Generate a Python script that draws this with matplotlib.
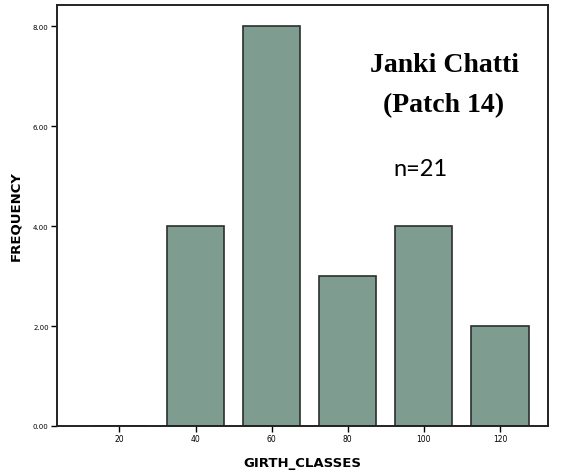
import matplotlib
matplotlib.use("Agg")
import matplotlib.pyplot as plt
import numpy as np

categories = ["20", "40", "60", "80", "100", "120"]
frequency = [0, 4, 8, 3, 4, 2]
yticks = [0, 2, 4, 6, 8]
ytick_labels = ["0.00", "2.00", "4.00", "6.00", "8.00"]

fig = plt.figure(figsize=(5.65, 4.77), dpi=100)
ax = fig.add_axes([57/565, 1-427/477, (548-57)/565, (427-6)/477])

x = np.arange(len(categories))
ax.bar(x, frequency, width=0.75, color="#7f9c90", edgecolor="#2a2f2c", linewidth=1.2, zorder=2)

ax.set_xlim(-0.82, 5.63)
ax.set_ylim(0, 8.43)
ax.set_xticks(x)
ax.set_xticklabels(categories, fontsize=5.5)
ax.set_yticks(yticks)
ax.set_yticklabels(ytick_labels, fontsize=5)
ax.tick_params(axis="both", direction="out", length=4, width=1, pad=2)
for s in ax.spines.values():
    s.set_linewidth(1.4)
    s.set_color("#222222")

ax.set_xlabel("GIRTH_CLASSES", fontsize=9.5, fontweight="bold", labelpad=9)
ax.set_ylabel("FREQUENCY", fontsize=9.5, fontweight="bold", labelpad=8)

ax.text(444/565, 1-66/477, "Janki Chatti", transform=fig.transFigure, ha="center", va="center",
        family="Liberation Serif", fontweight="bold", fontsize=20)
ax.text(444/565, 1-106/477, "(Patch 14)", transform=fig.transFigure, ha="center", va="center",
        family="Liberation Serif", fontweight="bold", fontsize=20)
ax.text(420/565, 1-170/477, "n=21", transform=fig.transFigure, ha="center", va="center",
        family="Lato", fontsize=17)

fig.savefig("out.png", dpi=100)
